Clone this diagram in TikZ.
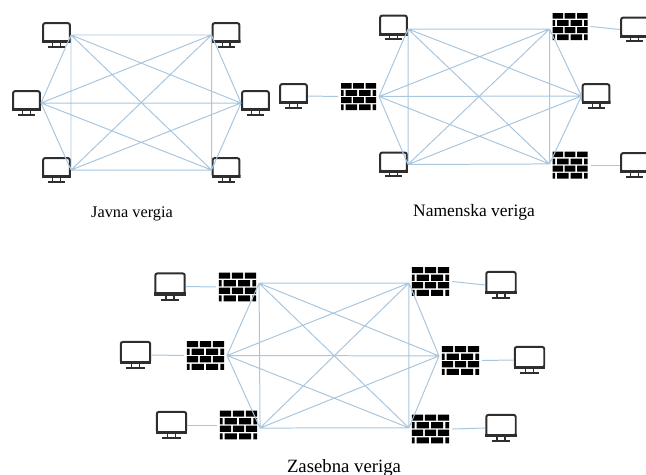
\documentclass[tikz,border=0pt]{standalone}
\usepackage{fontspec}
\setmainfont{Liberation Serif}
\definecolor{meshblue}{HTML}{A9C6DF}
\definecolor{iconblack}{HTML}{2E2E2E}
\tikzset{
    meshline/.style={draw=meshblue,line width=0.85pt},
    chainname/.style={inner sep=0pt,font=\fontsize{#1}{#1}\selectfont},
    pc/.style={inner sep=0pt,outer sep=0pt,minimum width=#1*0.87cm,minimum height=#1*0.78cm,
        path picture={
            \begin{scope}[shift={(path picture bounding box.center)},x=#1*0.03cm,y=#1*0.03cm,iconblack]
                \draw [line width=1.7pt,rounded corners=1.8pt] (-13.4,11.9) rectangle (13.4,-6.8);
                \fill (-14.5,-8.2) rectangle (14.5,-5.4);
                \draw [line width=1.2pt] (-3.8,-7) -- (-3.8,-12) (3.8,-7) -- (3.8,-12);
                \draw [line width=1.7pt] (-8.5,-11.9) -- (8.5,-11.9);
            \end{scope}
        }},
    wall/.style={inner sep=0pt,outer sep=0.09cm,minimum width=#1*1.05cm,minimum height=#1*0.81cm,
        path picture={
            \begin{scope}[shift={(path picture bounding box.center)},x=#1*0.03cm,y=#1*0.03cm]
                \fill [black] (-17.5,13.5) rectangle (-7,7.8) (-5.3,13.5) rectangle (5.3,7.8) (7,13.5) rectangle (17.5,7.8);
                \fill [black] (-17.5,6.5) rectangle (-15,0.7) (-13,6.5) rectangle (-1.5,0.7) (0.5,6.5) rectangle (12,0.7) (14,6.5) rectangle (17.5,0.7);
                \fill [black] (-17.5,-0.7) rectangle (-7,-6.5) (-5.3,-0.7) rectangle (5.3,-6.5) (7,-0.7) rectangle (17.5,-6.5);
                \fill [black] (-17.5,-7.8) rectangle (-15,-13.5) (-13,-7.8) rectangle (-1.5,-13.5) (0.5,-7.8) rectangle (12,-13.5) (14,-7.8) rectangle (17.5,-13.5);
            \end{scope}
        }}
}
\newcommand{\meshlinks}[6]{
    \draw [meshline] (#1) -- (#2) (#1) -- (#3) (#1) -- (#4) (#1) -- (#5) (#1) -- (#6)
        (#2) -- (#3) (#2) -- (#4) (#2) -- (#5) (#2) -- (#6)
        (#3) -- (#4) (#3) -- (#5) (#3) -- (#6)
        (#4) -- (#5) (#4) -- (#6)
        (#5) -- (#6);
}
\begin{document}
\begin{tikzpicture}[x=0.03cm,y=0.03cm]
    \useasboundingbox (0,0) rectangle (646,-474);
    \clip (0,0) rectangle (646,-474);
    % Javna vergia
    \node [pc=1] (jtl) at (56.5,-35) {};
    \node [pc=1] (jtr) at (226,-35) {};
    \node [pc=1] (jl) at (26.5,-103) {};
    \node [pc=1] (jr) at (255.5,-103) {};
    \node [pc=1] (jbl) at (56.5,-170) {};
    \node [pc=1] (jbr) at (226,-170) {};
    \meshlinks{jtl.east}{jtr.west}{jl.east}{jr.west}{jbl.east}{jbr.west}
    \node [chainname=13.9] (jname) at (132,-214) {Javna vergia};
    % Namenska veriga
    \node [pc=1] (ntl) at (393.5,-27.5) {};
    \node [wall=1] (ntr) at (570,-26.5) {};
    \node [wall=1] (nl) at (358.5,-96.5) {};
    \node [pc=1] (nr) at (596,-96) {};
    \node [pc=1] (nbl) at (393.5,-164.5) {};
    \node [wall=1] (nbr) at (570,-165) {};
    \node [pc=1] (nfl) at (293.5,-96) {};
    \node [pc=1] (nftr) at (634.5,-29.5) {};
    \node [pc=1] (nfbr) at (634.5,-165) {};
    \meshlinks{ntl.-6}{ntr.187}{nl.east}{nr.west}{nbl.east}{nbr.177}
    \draw [meshline] (nfl.east) -- (nl.west);
    \draw [meshline] (ntr.east) -- (nftr.west);
    \draw [meshline] (nbr.east) -- (nfbr.west);
    \node [chainname=14.9] (nname) at (474,-212) {Namenska veriga};
    % Zasebna veriga
    \node [wall=1.06] (ztl) at (237.5,-287) {};
    \node [wall=1.06] (ztr) at (430.5,-281.5) {};
    \node [wall=1.06] (zl) at (205.5,-355.5) {};
    \node [wall=1.06] (zr) at (460.5,-360.5) {};
    \node [wall=1.06] (zbl) at (238.5,-425) {};
    \node [wall=1.06] (zbr) at (430.5,-429) {};
    \node [pc=1.1] (zptl) at (170,-286.5) {};
    \node [pc=1.1] (zptr) at (501,-285) {};
    \node [pc=1.1] (zpl) at (135.5,-355) {};
    \node [pc=1.1] (zpr) at (529.5,-360) {};
    \node [pc=1.1] (zpbl) at (171.5,-425) {};
    \node [pc=1.1] (zpbr) at (501,-428) {};
    \meshlinks{ztl.10}{ztr.184}{zl.east}{zr.168}{zbl.-8}{zbr.177}
    \draw [meshline] (zptl.east) -- (ztl.west);
    \draw [meshline] (zpl.east) -- (zl.west);
    \draw [meshline] (zpbl.east) -- (zbl.west);
    \draw [meshline] (ztr.east) -- (zptr.west);
    \draw [meshline] (zr.east) -- (zpr.west);
    \draw [meshline] (zbr.east) -- (zpbr.west);
    \node [chainname=16] (zname) at (344,-468) {Zasebna veriga};
\end{tikzpicture}
\end{document}
